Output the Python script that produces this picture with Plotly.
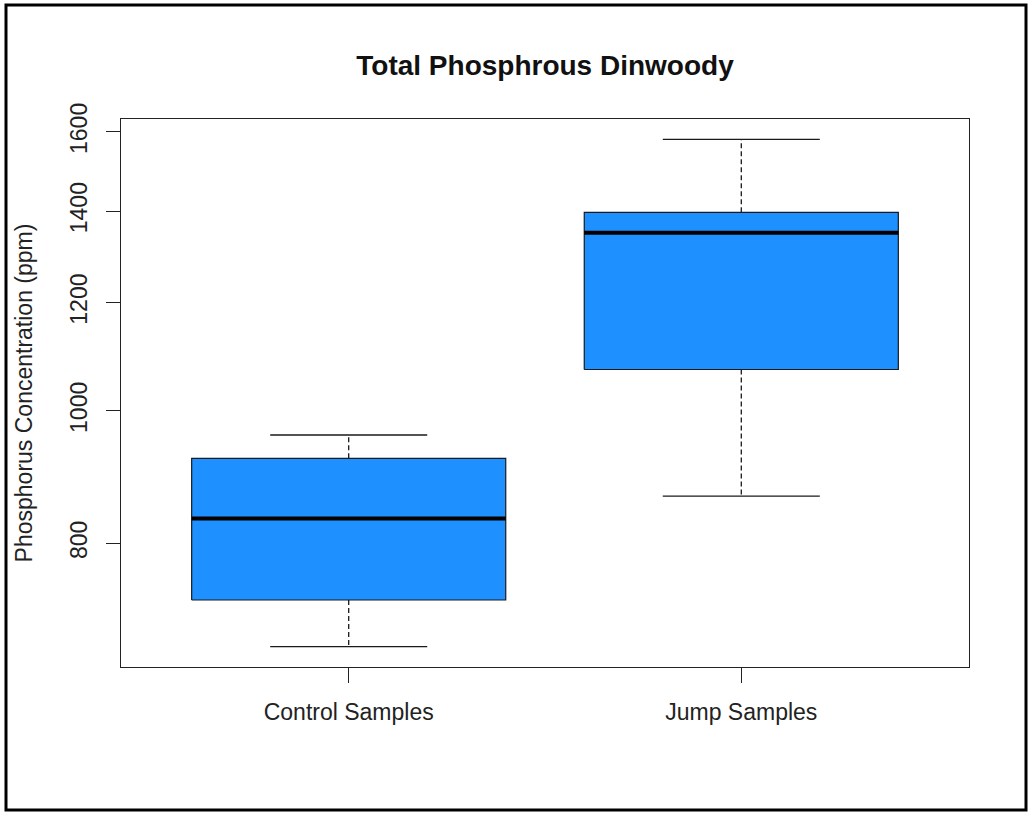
import math
import plotly.graph_objects as go

# ---- data ----
categories = ["Control Samples", "Jump Samples"]
lower_whisker = [672, 866]
q1 = [727, 1072]
median = [834, 1350]
q3 = [923, 1397]
upper_whisker = [960, 1580]
y_ticks = [800, 1000, 1200, 1400, 1600]

BOX_HALF = 0.4
CAP_HALF = 0.2
FILL = "#1E90FF"
FONT = "Liberation Sans, Arial, sans-serif"

W, H = 1029, 813
L, R, T, B = 121, 60, 119, 146

fig = go.Figure()
pos = list(range(1, len(categories) + 1))

for i, c in enumerate(categories):
    x = pos[i]
    # box
    fig.add_trace(go.Scatter(
        x=[x - BOX_HALF, x + BOX_HALF, x + BOX_HALF, x - BOX_HALF, x - BOX_HALF],
        y=[q1[i], q1[i], q3[i], q3[i], q1[i]],
        mode="lines", fill="toself", fillcolor=FILL,
        line=dict(color="#1a1a1a", width=1.2), hoverinfo="skip", showlegend=False))
    # median
    fig.add_trace(go.Scatter(
        x=[x - BOX_HALF, x + BOX_HALF], y=[median[i], median[i]],
        mode="lines", line=dict(color="#000000", width=4), showlegend=False, hoverinfo="skip"))
    # whiskers (dashed)
    fig.add_trace(go.Scatter(
        x=[x, x, None, x, x], y=[q3[i], upper_whisker[i], None, q1[i], lower_whisker[i]],
        mode="lines", line=dict(color="#1a1a1a", width=1.3, dash="5px,3px"),
        showlegend=False, hoverinfo="skip"))
    # caps
    fig.add_trace(go.Scatter(
        x=[x - CAP_HALF, x + CAP_HALF, None, x - CAP_HALF, x + CAP_HALF],
        y=[upper_whisker[i], upper_whisker[i], None, lower_whisker[i], lower_whisker[i]],
        mode="lines", line=dict(color="#1a1a1a", width=1.3),
        showlegend=False, hoverinfo="skip"))

lo = math.log10(min(lower_whisker))
hi = math.log10(max(upper_whisker))
pad = (hi - lo) * 0.04
n = len(categories)
xpad = n * 0.04

fig.update_layout(
    width=W, height=H,
    margin=dict(l=L, r=R, t=T, b=B),
    paper_bgcolor="white", plot_bgcolor="white",
    font=dict(family=FONT, color="#222222", size=23),
    title=dict(text="<b>Total Phosphrous Dinwoody</b>", x=0.5, xref="paper",
               y=1 - 65 / H, yref="container", xanchor="center", yanchor="middle",
               font=dict(family=FONT, size=28, color="#111111")),
    xaxis=dict(range=[0.5 - xpad, n + 0.5 + xpad], tickvals=pos, ticktext=categories,
               showgrid=False, zeroline=False, showline=True, mirror=True,
               linecolor="#222222", linewidth=1.3, ticks="outside", ticklen=15,
               tickcolor="#222222", tickwidth=1.3, tickfont=dict(size=23),
               ticklabelstandoff=9),
    yaxis=dict(type="log", range=[lo - pad, hi + pad], tickvals=y_ticks,
               ticktext=[str(v) for v in y_ticks], tickangle=-90,
               showgrid=False, zeroline=False, showline=True, mirror=True,
               linecolor="#222222", linewidth=1.3, ticks="outside", ticklen=14,
               tickcolor="#222222", tickwidth=1.3, tickfont=dict(size=23),
               ticklabelstandoff=10,
               title=dict(text="Phosphorus Concentration (ppm)", font=dict(size=23), standoff=26)),
)

# outer border around the whole figure
pw = W - L - R
ph = H - T - B
fig.add_shape(type="rect", xref="paper", yref="paper",
              x0=(6 - L) / pw, x1=(1026 - L) / pw,
              y0=1 - (810 - T) / ph, y1=1 - (5 - T) / ph,
              line=dict(color="black", width=3), fillcolor="rgba(0,0,0,0)", layer="above")

fig.write_html("out.html")
